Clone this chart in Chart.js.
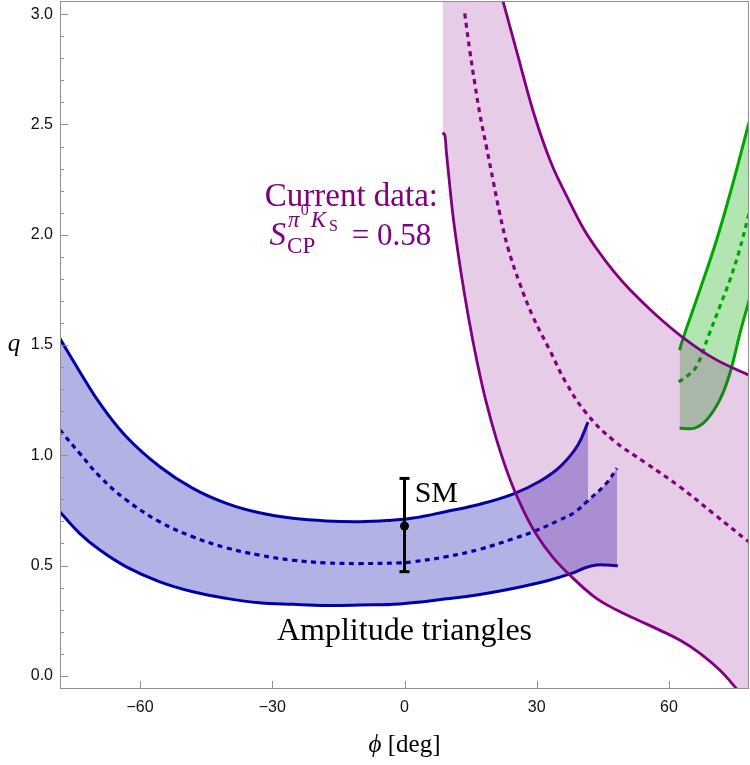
<!DOCTYPE html>
<html>
<head>
<meta charset="utf-8">
<script src="https://cdn.jsdelivr.net/npm/chart.js@4.4.1/dist/chart.umd.min.js"></script>
<style>
  html, body { margin: 0; padding: 0; background: #fff; }
  canvas { display: block; }
</style>
</head>
<body>
<canvas id="qChart" width="750" height="765"></canvas>
<script>
// axis ticks
const xTicks = [-60, -30, 0, 30, 60];
const yTicks = [0, 0.5, 1, 1.5, 2, 2.5, 3];

// amplitude triangles (blue band), [phi, q]
const blueUpper = [[-78.2,1.530],[-73.7,1.380],[-69.1,1.235],[-63.1,1.084],[-55.5,0.948],[-48.0,0.850],
  [-40.4,0.782],[-32.9,0.739],[-25.3,0.714],[-17.7,0.702],[-10.2,0.699],[-4.0,0.704],[1.9,0.715],
  [9.5,0.745],[17.1,0.778],[24.6,0.824],[30.7,0.882],[35.5,0.952],[39.3,1.045],[41.63,1.150]];
const blueMid = [[-78.2,1.115],[-73.7,1.009],[-69.1,0.903],[-63.1,0.797],[-55.5,0.698],[-48.0,0.630],
  [-40.4,0.580],[-32.9,0.547],[-25.3,0.524],[-17.7,0.512],[-10.2,0.509],[-1.1,0.512],[1.9,0.517],
  [9.5,0.540],[17.1,0.574],[24.6,0.621],[30.0,0.660],[35.0,0.705],[38.5,0.740],[41.63,0.795],
  [45.8,0.873],[48.2,0.941]];
const blueLower = [[-78.2,0.744],[-73.7,0.646],[-69.1,0.570],[-63.1,0.494],[-55.5,0.426],[-48.0,0.381],
  [-40.4,0.351],[-32.9,0.331],[-25.3,0.324],[-17.7,0.319],[-10.2,0.321],[-1.1,0.326],[9.5,0.349],
  [17.1,0.369],[24.6,0.396],[32.2,0.430],[37.9,0.464],[41.0,0.490],[43.5,0.502],[46.0,0.502],[48.4,0.499]];

// current data S_CP (purple band)
const purpleLeft = [[8.65,2.463],[9.17,2.450],[9.46,2.384],[10.14,2.248],[10.93,2.098],[11.96,1.944],
  [13.09,1.795],[14.63,1.613],[16.38,1.432],[18.42,1.250],[20.92,1.069],[23.98,0.888],[26.93,0.751],
  [29.99,0.638],[33.62,0.538],[37.48,0.457],[43.15,0.357],[48.14,0.298],[52.90,0.253],[57.89,0.207],
  [62.43,0.162],[66.97,0.103],[71.51,0.026],[75.59,-0.065],[77.40,-0.110],[79.5,-0.170]];
const purpleMid = [[13.66,3.004],[14.79,2.838],[15.93,2.688],[17.06,2.551],[18.58,2.399],[20.08,2.248],
  [21.60,2.097],[23.48,1.940],[26.13,1.780],[29.15,1.628],[32.94,1.477],[36.73,1.326],[41.27,1.190],
  [47.30,1.069],[54.88,0.963],[62.45,0.857],[69.99,0.737],[77.86,0.611],[78.77,0.598]];
const purpleRight = [[22.28,3.064],[25.68,2.815],[29.31,2.552],[33.17,2.330],[37.25,2.157],[40.65,2.026],
  [44.28,1.917],[47.46,1.834],[51.09,1.752],[56.76,1.642],[63.11,1.535],[70.37,1.437],[78.31,1.362],
  [79.5,1.351]];
const purpleTop = [[8.65,3.3],[22.0,3.3]];

// green band
const greenUpper = [[62.4,1.477],[63.2,1.530],[67.0,1.749],[70.8,1.976],[74.5,2.233],[77.9,2.490],[78.6,2.540]];
const greenMid = [[62.2,1.333],[63.9,1.356],[66.2,1.401],[69.2,1.554],[71.5,1.673],[73.8,1.794],[76.0,1.931],
  [77.9,2.076],[78.6,2.125]];
const greenLower = [[62.4,1.123],[65.8,1.123],[68.5,1.160],[71.5,1.250],[73.8,1.371],[76.1,1.553],[78.4,1.719],
  [78.8,1.750]];

// standard model point
const smPhi = 0;
const smQ = 0.679;
const smQLow = 0.472;
const smQHigh = 0.895;

const BLUE = '#0000a8', GREEN = '#00a600', PURPLE = '#800080';
const DOTS = [5, 4.5];
const pts = a => a.map(p => ({x: p[0], y: p[1]}));
const blueExt = blueMid.filter(p => p[0] >= blueUpper[blueUpper.length - 1][0]);
const purpleFill = purpleTop.concat(purpleRight);

function curve(data, color, opts) {
  return Object.assign({
    data: pts(data), borderColor: color, borderWidth: 3, pointRadius: 0,
    fill: false, tension: 0.4, clip: 0
  }, opts || {});
}

const framePlugin = {
  id: 'frame',
  afterDraw(chart) {
    const {ctx, chartArea: a, scales: {x, y}} = chart;
    ctx.save();
    ctx.strokeStyle = '#909090';
    ctx.lineWidth = 1;
    ctx.strokeRect(a.left + 0.5, a.top + 0.5, a.right - a.left - 1, a.bottom - a.top - 1);
    ctx.beginPath();
    xTicks.forEach(v => {
      const px = Math.round(x.getPixelForValue(v)) + 0.5;
      ctx.moveTo(px, a.bottom); ctx.lineTo(px, a.bottom - 8);
    });
    for (let i = 0; i <= 30; i++) {
      const py = Math.round(y.getPixelForValue(i / 10)) + 0.5;
      ctx.moveTo(a.left, py); ctx.lineTo(a.left + (i % 5 === 0 ? 8 : 4), py);
    }
    ctx.stroke();

    const serif = "'Liberation Serif', 'DejaVu Serif', serif";
    ctx.textBaseline = 'alphabetic';
    ctx.fillStyle = '#000';
    ctx.textAlign = 'center';
    ctx.font = '32px ' + serif;
    ctx.fillText('Amplitude triangles', x.getPixelForValue(0), y.getPixelForValue(0.163));
    ctx.textAlign = 'left';
    ctx.font = '30px ' + serif;
    ctx.fillText('SM', x.getPixelForValue(2.3), y.getPixelForValue(0.789));

    // axis titles
    ctx.font = 'italic 25px ' + serif;
    const wPhi = ctx.measureText('\u03D5').width;
    ctx.font = '25px ' + serif;
    const wDeg = ctx.measureText(' [deg]').width;
    const cx = (a.left + a.right) / 2 - (wPhi + wDeg) / 2;
    ctx.font = 'italic 25px ' + serif;
    ctx.fillText('\u03D5', cx, 752);
    ctx.font = '25px ' + serif;
    ctx.fillText(' [deg]', cx + wPhi, 752);
    ctx.font = 'italic 25px ' + serif;
    ctx.textAlign = 'center';
    ctx.fillText('q', 14, 351);

    // purple annotation
    ctx.fillStyle = PURPLE;
    ctx.textAlign = 'left';
    ctx.font = '33px ' + serif;
    ctx.fillText('Current data:', x.getPixelForValue(-31.7), y.getPixelForValue(2.13));
    let px = x.getPixelForValue(-30.6);
    const base = y.getPixelForValue(1.953);
    ctx.font = 'italic 33px ' + serif;
    ctx.fillText('S', px, base);
    px += ctx.measureText('S').width + 2;
    const subStart = px - 1;
    let sx = px;
    ctx.font = 'italic 23px ' + serif;
    ctx.fillText('\u03C0', sx, base - 18);
    sx += ctx.measureText('\u03C0').width + 1;
    ctx.font = '16px ' + serif;
    ctx.fillText('0', sx, base - 30);
    sx += ctx.measureText('0').width + 2;
    ctx.font = 'italic 23px ' + serif;
    ctx.fillText('K', sx, base - 18);
    sx += ctx.measureText('K').width + 3;
    ctx.font = '16px ' + serif;
    ctx.fillText('S', sx, base - 14);
    sx += ctx.measureText('S').width;
    ctx.font = '23px ' + serif;
    ctx.fillText('CP', subStart, base + 8);
    const cpEnd = subStart + ctx.measureText('CP').width;
    ctx.font = '31px ' + serif;
    ctx.fillText('= 0.58', Math.max(sx, cpEnd) + 14, base);
    ctx.restore();
  }
};

new Chart(document.getElementById('qChart'), {
  type: 'line',
  data: {
    datasets: [
      // purple band (drawn on top)
      curve(purpleFill, 'rgba(0,0,0,0)', {borderWidth: 0, fill: 2, backgroundColor: 'rgba(128,0,128,0.2)', order: 22}),
      curve(purpleRight, PURPLE, {borderWidth: 2.8, order: 21}),
      curve(purpleLeft, PURPLE, {borderWidth: 2.8, order: 20}),
      curve(purpleMid, PURPLE, {borderWidth: 3.2, borderDash: DOTS, order: 20}),
      // green band
      curve(greenUpper, GREEN, {fill: 5, backgroundColor: 'rgba(0,170,0,0.3)', order: 41}),
      curve(greenLower, GREEN, {order: 40}),
      curve(greenMid, GREEN, {borderWidth: 3.2, borderDash: DOTS, order: 40}),
      // blue band
      curve(blueUpper, BLUE, {fill: 8, backgroundColor: 'rgba(0,0,170,0.3)', order: 61}),
      curve(blueLower, BLUE, {order: 60}),
      curve(blueExt, 'rgba(0,0,0,0)', {borderWidth: 0, fill: 8, backgroundColor: 'rgba(0,0,170,0.3)', order: 62}),
      curve(blueMid, BLUE, {borderWidth: 3.2, borderDash: DOTS, order: 60}),
      // SM
      {
        data: [{x: smPhi, y: smQLow}, {x: smPhi, y: smQHigh}], borderColor: '#000', borderWidth: 3,
        pointStyle: 'line', pointRadius: 5, pointBorderWidth: 3, pointBorderColor: '#000', order: 1, clip: 0
      },
      {
        data: [{x: smPhi, y: smQ}], showLine: false, pointRadius: 4.5, pointBackgroundColor: '#000',
        pointBorderWidth: 0, order: 0, clip: 0
      }
    ]
  },
  options: {
    responsive: false,
    animation: false,
    devicePixelRatio: 1,
    layout: {autoPadding: false, padding: {left: 0, right: 1, top: 1, bottom: 0}},
    plugins: {legend: {display: false}, tooltip: {enabled: false}},
    scales: {
      x: {
        type: 'linear', min: -78.15, max: 78.15,
        grid: {display: false, drawTicks: false}, border: {display: false},
        afterBuildTicks: s => { s.ticks = xTicks.map(v => ({value: v})); },
        afterFit: s => { s.height = 76; s.paddingLeft = 0; s.paddingRight = 0; },
        ticks: {
          autoSkip: false, maxRotation: 0, padding: 9, color: '#111',
          font: {family: "'Liberation Sans', Arial, sans-serif", size: 16},
          callback: v => (v < 0 ? '\u2212' + Math.abs(v) : String(v))
        }
      },
      y: {
        type: 'linear', min: -0.06, max: 3.06,
        grid: {display: false, drawTicks: false}, border: {display: false},
        afterBuildTicks: s => { s.ticks = yTicks.map(v => ({value: v})); },
        afterFit: s => { s.width = 60; s.paddingTop = 0; s.paddingBottom = 0; },
        ticks: {
          autoSkip: false, padding: 7, color: '#111',
          font: {family: "'Liberation Sans', Arial, sans-serif", size: 16},
          callback: v => v.toFixed(1)
        }
      }
    }
  },
  plugins: [framePlugin]
});
</script>
</body>
</html>
